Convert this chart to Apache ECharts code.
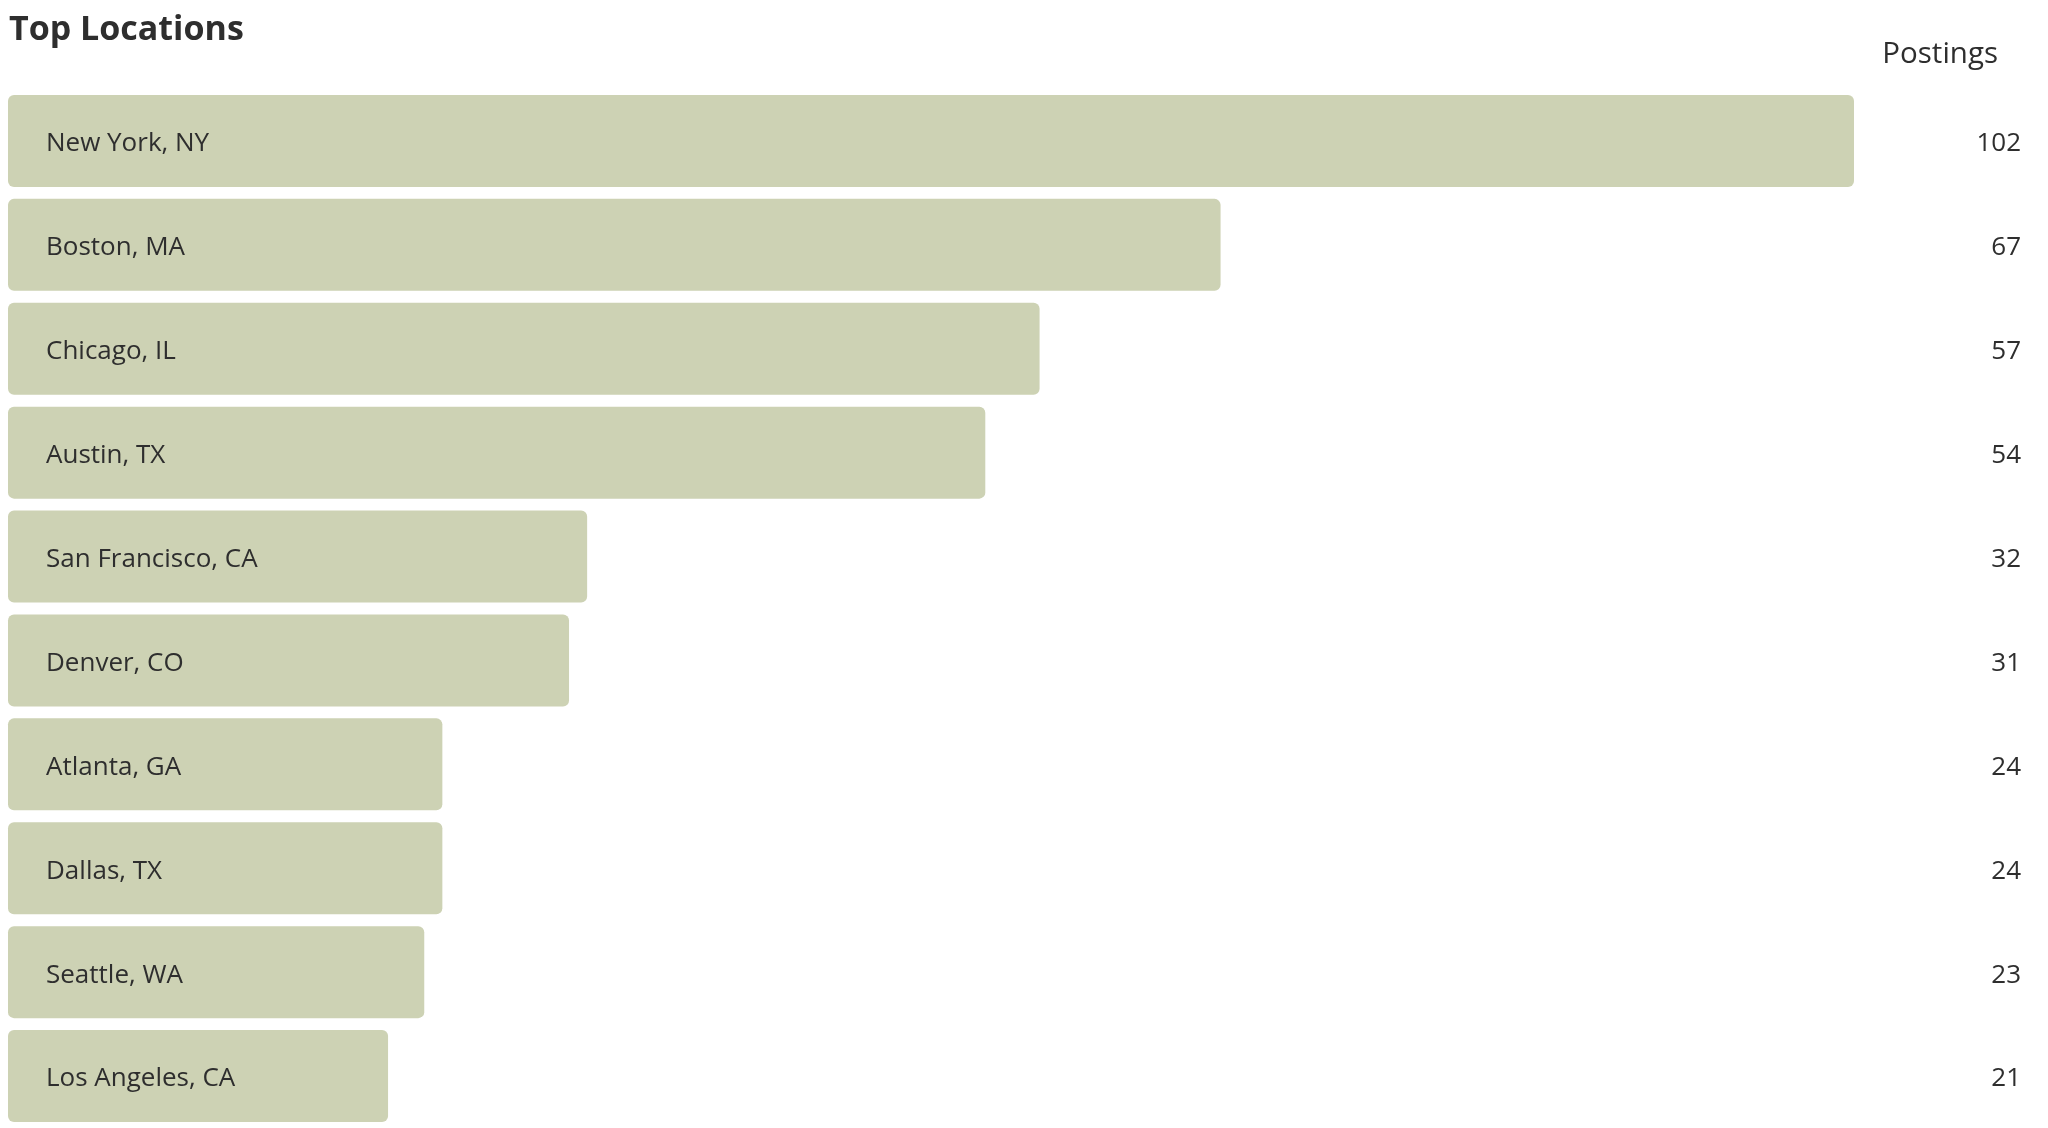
<!DOCTYPE html>
<html>
<head>
<meta charset="utf-8">
<script src="https://cdn.jsdelivr.net/npm/echarts@6/dist/echarts.min.js"></script>
<style>
html,body{margin:0;padding:0;background:#fff;}
#chart{width:2048px;height:1128px;}
</style>
</head>
<body>
<div id="chart"></div>
<script>
const categories = ["New York, NY","Boston, MA","Chicago, IL","Austin, TX","San Francisco, CA","Denver, CO","Atlanta, GA","Dallas, TX","Seattle, WA","Los Angeles, CA"];
const postings = [102,67,57,54,32,31,24,24,23,21];
const chartTitle = "Top Locations";
const valueHeader = "Postings";

const chart = echarts.init(document.getElementById('chart'));
const font = "'Open Sans', 'Noto Sans', sans-serif";
chart.setOption({
  animation: false,
  backgroundColor: '#ffffff',
  textStyle: { fontFamily: font },
  title: [
    { text: chartTitle, left: 4, top: 8, textStyle: { fontFamily: font, fontSize: 34, fontWeight: 'bold', color: '#2e2e2e' } },
    { text: valueHeader, right: 45, top: 35, textStyle: { fontFamily: font, fontSize: 29.5, fontWeight: 'normal', color: '#2e2e2e' } }
  ],
  grid: { left: 8, right: 194, top: 89, bottom: 0, containLabel: false },
  xAxis: { type: 'value', min: 0, max: 102, show: false },
  yAxis: [
    { type: 'category', data: categories, inverse: true, show: false },
    { type: 'category', data: postings.map(String), inverse: true, position: 'right',
      axisLine: { show: false }, axisTick: { show: false },
      axisLabel: { align: 'right', margin: 167, color: '#2e2e2e', fontFamily: font,
        formatter: function (v) { return '{v|' + v + '}'; },
        rich: { v: { fontSize: 26, color: '#2e2e2e', fontFamily: font, padding: [6, 0, 0, 0] } } } }
  ],
  series: [{
    type: 'bar',
    data: postings,
    barCategoryGap: '11.5%',
    itemStyle: { color: '#cdd2b4', borderRadius: 6 },
    label: { show: true, position: 'insideLeft', offset: [33, 3], formatter: '{b}', fontSize: 26, color: '#2e2e2e', fontFamily: font }
  }]
});
</script>
</body>
</html>
